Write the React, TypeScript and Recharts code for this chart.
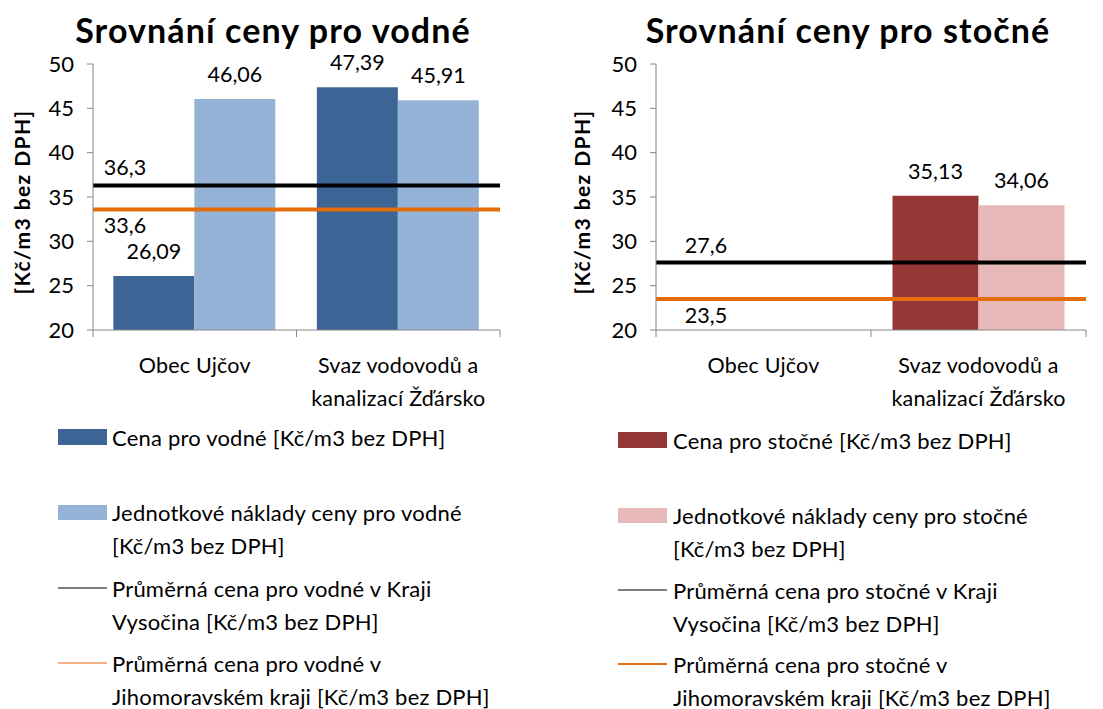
import { BarChart, Bar, XAxis, YAxis, ReferenceLine, LabelList } from 'recharts';

// categories
const categories = ['Obec Ujčov', 'Svaz vodovodů a kanalizací Žďársko'];
const categoryLines = [['Obec Ujčov'], ['Svaz vodovodů a', 'kanalizací Žďársko']];

// vodné
const vodneCena = [26.09, 47.39];
const vodneNaklady = [46.06, 45.91];
const vodneVysocina = 36.3;
const vodneJihomoravsky = 33.6;

// stočné (Obec Ujčov has no stočné)
const stocneCena = [0, 35.13];
const stocneNaklady = [0, 34.06];
const stocneVysocina = 27.6;
const stocneJihomoravsky = 23.5;

const yTicks = [20, 25, 30, 35, 40, 45, 50];

const vodneLegend = [
  ['Cena pro vodné [Kč/m3 bez DPH]'],
  ['Jednotkové náklady ceny pro vodné', '[Kč/m3 bez DPH]'],
  ['Průměrná cena pro vodné v Kraji', 'Vysočina [Kč/m3 bez DPH]'],
  ['Průměrná cena pro vodné v', 'Jihomoravském kraji [Kč/m3 bez DPH]'],
];
const stocneLegend = [
  ['Cena pro stočné [Kč/m3 bez DPH]'],
  ['Jednotkové náklady ceny pro stočné', '[Kč/m3 bez DPH]'],
  ['Průměrná cena pro stočné v Kraji', 'Vysočina [Kč/m3 bez DPH]'],
  ['Průměrná cena pro stočné v', 'Jihomoravském kraji [Kč/m3 bez DPH]'],
];

const FONT = 'Lato, "Open Sans", sans-serif';
const AXIS = '#868686';
const TOP = 64;
const BOTTOM = 330;
const H = 420;
const TXT = 21.5;

const fmt = (v: number) => String(v).replace('.', ',');

function Panel(props: any) {
  const { left, width, axisW, rightM, title, titleCenter, cena, naklady, vysocina, jihomor,
    dark, light, legend, legendSwatchX, legendTextX, legendY, orangeLegend, lineLabelDx } = props;
  const data = categories.map((c, i) => ({ name: c, cena: cena[i], naklady: naklady[i] }));
  const band = (width - axisW - rightM) / categories.length;

  const XTick = (p: any) => {
    const idx = categories.indexOf(p.payload.value);
    const lines = categoryLines[idx] || [p.payload.value];
    const x = p.x;
    return (
      <g>
        <line x1={x - band / 2} x2={x - band / 2} y1={BOTTOM} y2={BOTTOM + 7} stroke={AXIS} />
        {idx === categories.length - 1 && (
          <line x1={x + band / 2} x2={x + band / 2} y1={BOTTOM} y2={BOTTOM + 7} stroke={AXIS} />
        )}
        {lines.map((t, i) => (
          <text key={i} x={x} y={BOTTOM + 35 + i * 33} textAnchor="middle" dominantBaseline="central"
            fontSize={TXT} letterSpacing={0.2} fill="#000" fontFamily={FONT}>{t}</text>
        ))}
      </g>
    );
  };

  const barLabel = (p: any) => {
    if (p.value < 20) return null;
    return (
      <text x={p.x + p.width / 2} y={p.y - 25} textAnchor="middle" dominantBaseline="central"
        fontSize={TXT} fill="#000" fontFamily={FONT}>{fmt(p.value)}</text>
    );
  };

  const lineLabel = (value: number, dy: number) => (p: any) => {
    const vb = p.viewBox || {};
    return (
      <text x={vb.x + lineLabelDx} y={vb.y + dy} textAnchor="middle" dominantBaseline="central"
        fontSize={TXT} fill="#000" fontFamily={FONT}>{fmt(value)}</text>
    );
  };

  return (
    <div style={{ position: 'absolute', left, top: 0, width, height: 709 }}>
      <div style={{ position: 'absolute', left: titleCenter - 300, width: 600, top: 14, textAlign: 'center',
        fontFamily: FONT, fontWeight: 700, fontSize: 34, letterSpacing: 1.1, lineHeight: '32px', color: '#000' }}>{title}</div>
      <div style={{ position: 'absolute', left: 22 - 150, top: 202 - 12, width: 300, height: 24,
        textAlign: 'center', transform: 'rotate(-90deg)', fontFamily: FONT, fontWeight: 700, fontSize: 21,
        letterSpacing: 1.4, lineHeight: '24px', color: '#000' }}>[Kč/m3 bez DPH]</div>
      <div style={{ position: 'absolute', left: 0, top: 0 }}>
        <BarChart width={width} height={H} data={data} barCategoryGap="10%" barGap={0}
          margin={{ top: TOP, right: rightM, bottom: 0, left: 0 }}>
          <XAxis dataKey="name" height={H - BOTTOM} stroke={AXIS} tickLine={false} tick={XTick} interval={0} />
          <YAxis width={axisW} domain={[20, 50]} ticks={yTicks} allowDataOverflow interval={0}
            stroke={AXIS} tickSize={6} tickMargin={13}
            tick={{ fill: '#000', fontSize: 22, fontFamily: FONT }} />
          <Bar dataKey="cena" fill={dark} isAnimationActive={false}>
            <LabelList dataKey="cena" content={barLabel} />
          </Bar>
          <Bar dataKey="naklady" fill={light} isAnimationActive={false}>
            <LabelList dataKey="naklady" content={barLabel} />
          </Bar>
          <ReferenceLine y={vysocina} stroke="#000" strokeWidth={4} label={lineLabel(vysocina, -18)} />
          <ReferenceLine y={jihomor} stroke="#E46C0A" strokeWidth={4} label={lineLabel(jihomor, 16)} />
        </BarChart>
      </div>
      <svg style={{ position: 'absolute', left: 0, top: 0 }} width={width} height={709}>
        {legend.map((lines: string[], i: number) => {
          const cy = legendY[i];
          return (
            <g key={i}>
              {i === 0 && <rect x={legendSwatchX} y={cy - 8} width={49} height={16} fill={dark} />}
              {i === 1 && <rect x={legendSwatchX} y={cy - 7} width={49} height={15} fill={light} />}
              {i > 1 && (
                <line x1={legendSwatchX} x2={legendSwatchX + 49} y1={cy} y2={cy}
                  stroke={i === 2 ? '#7F7F7F' : orangeLegend} strokeWidth={2} />
              )}
              {lines.map((t, k) => (
                <text key={k} x={legendTextX} y={cy + k * 33} dominantBaseline="central" fontFamily={FONT}
                  fontSize={22} letterSpacing={0.2} fill="#000">{t}</text>
              ))}
            </g>
          );
        })}
      </svg>
    </div>
  );
}

export default function App() {
  return (
    <div style={{ position: 'absolute', left: 0, top: 0, width: 1103, height: 709, background: '#fff', overflow: 'hidden' }}>
      <Panel left={0} width={560} axisW={93} rightM={60} title="Srovnání ceny pro vodné" titleCenter={273}
        cena={vodneCena} naklady={vodneNaklady} vysocina={vodneVysocina} jihomor={vodneJihomoravsky}
        dark="#3C6494" light="#95B3D7" legend={vodneLegend} legendSwatchX={58} legendTextX={112}
        legendY={[437, 512, 588, 663]} orangeLegend="#F4B183" lineLabelDx={32} />
      <Panel left={560} width={543} axisW={96} rightM={17} title="Srovnání ceny pro stočné" titleCenter={288}
        cena={stocneCena} naklady={stocneNaklady} vysocina={stocneVysocina} jihomor={stocneJihomoravsky}
        dark="#953735" light="#E6B9B8" legend={stocneLegend} legendSwatchX={58} legendTextX={113}
        legendY={[440, 515, 590, 664]} orangeLegend="#E46C0A" lineLabelDx={50} />
    </div>
  );
}
